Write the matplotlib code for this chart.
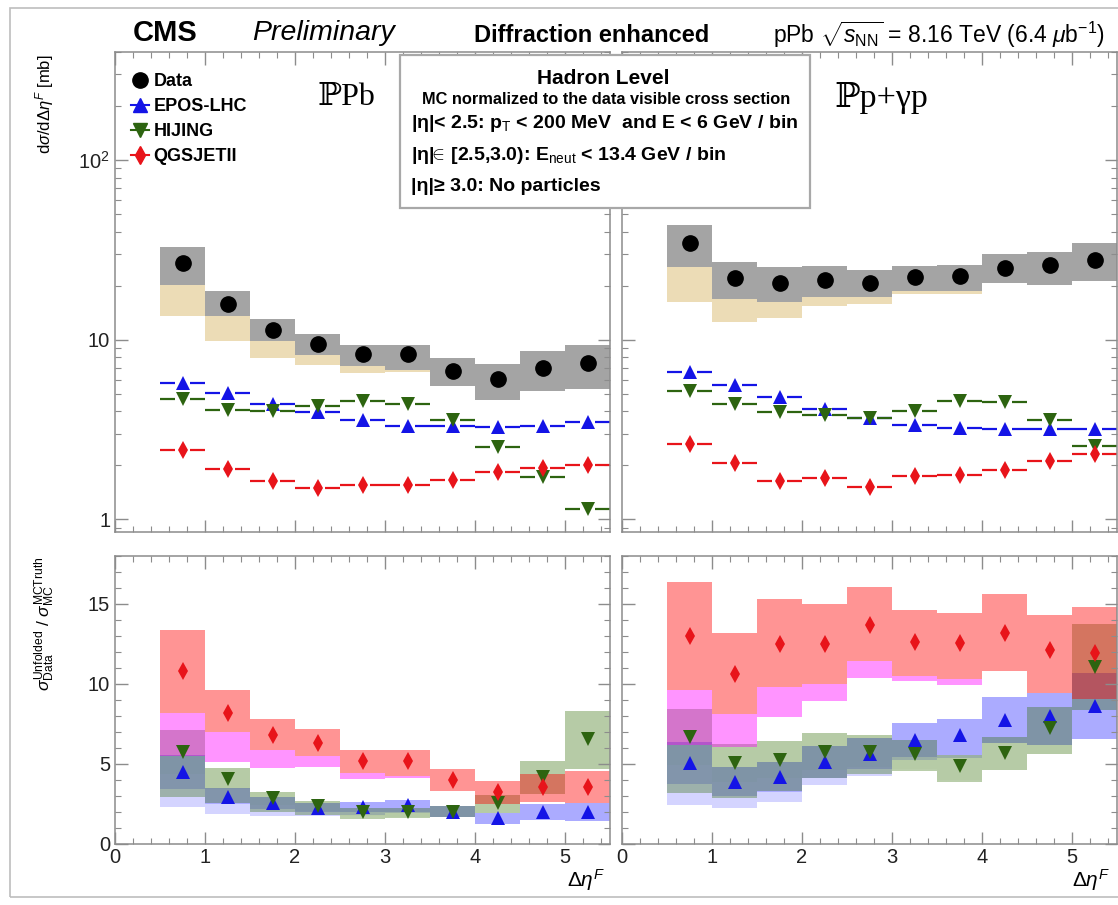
import numpy as np
import matplotlib
matplotlib.use("Agg")
import matplotlib.pyplot as plt
from matplotlib.lines import Line2D
from matplotlib.patches import Rectangle
from matplotlib.ticker import MultipleLocator, LogLocator, NullFormatter, FuncFormatter

plt.rcParams['font.family'] = ['Liberation Sans', 'DejaVu Sans']
plt.rcParams['mathtext.fontset'] = 'custom'
plt.rcParams['mathtext.rm'] = 'Liberation Sans'
plt.rcParams['mathtext.it'] = 'Liberation Sans:italic'
plt.rcParams['mathtext.bf'] = 'Liberation Sans:bold'

# bins in delta eta^F (lower edges, width 0.5)
bin_lo = np.array([0.5, 1.0, 1.5, 2.0, 2.5, 3.0, 3.5, 4.0, 4.5, 5.0])
bin_w = 0.5

# ---- IPPb, d sigma / d delta eta [mb]
data_ppb = np.array([26.7, 15.8, 11.4, 9.5, 8.3, 8.3, 6.7, 6.05, 7.0, 7.4])
data_ppb_hi = np.array([33.0, 18.6, 13.1, 10.8, 9.4, 9.4, 7.9, 7.3, 8.7, 9.4])
data_ppb_lo = np.array([20.2, 13.5, 9.8, 8.26, 7.1, 6.8, 5.5, 4.6, 5.2, 5.3])
data_ppb_ext = np.array([13.5, 9.9, 7.96, 7.25, 6.5, 6.6, 5.5, 4.6, 5.2, 5.3])
epos_ppb = np.array([5.74, 5.05, 4.41, 3.94, 3.56, 3.30, 3.30, 3.28, 3.30, 3.47])
hijing_ppb = np.array([4.68, 4.05, 4.0, 4.26, 4.54, 4.41, 3.59, 2.53, 1.73, 1.14])
qgs_ppb = np.array([2.43, 1.90, 1.63, 1.50, 1.56, 1.56, 1.65, 1.83, 1.94, 2.0])

# ---- IPp + gamma p
data_ppg = np.array([34.5, 22.0, 20.8, 21.5, 20.8, 22.3, 22.7, 25.2, 26.1, 27.8])
data_ppg_hi = np.array([43.5, 27.2, 25.5, 25.8, 24.5, 25.8, 26.1, 29.9, 30.8, 34.5])
data_ppg_lo = np.array([25.5, 16.8, 16.3, 17.2, 17.4, 18.6, 18.6, 20.6, 20.2, 21.1])
data_ppg_ext = np.array([16.3, 12.5, 13.2, 15.4, 15.8, 18.0, 18.0, 20.6, 20.2, 21.1])
epos_ppg = np.array([6.62, 5.62, 4.80, 4.14, 3.67, 3.34, 3.23, 3.19, 3.19, 3.20])
hijing_ppg = np.array([5.21, 4.41, 3.95, 3.83, 3.67, 4.03, 4.58, 4.48, 3.59, 2.55])
qgs_ppg = np.array([2.61, 2.07, 1.63, 1.70, 1.52, 1.74, 1.76, 1.88, 2.11, 2.32])

# ---- ratios data / MC
qgs_ratio_ppb = np.array([10.8, 8.18, 6.78, 6.30, 5.18, 5.18, 3.97, 3.24, 3.51, 3.55])
epos_ratio_ppb = np.array([4.49, 2.93, 2.51, 2.25, 2.3, 2.41, 1.99, 1.6, 1.99, 1.99])
hijing_ratio_ppb = np.array([5.74, 4.01, 2.83, 2.35, 1.99, 1.99, 1.99, 2.51, 4.18, 6.55])

qgs_ratio_ppg = np.array([12.99, 10.64, 12.47, 12.47, 13.66, 12.61, 12.55, 13.18, 12.14, 11.93])
epos_ratio_ppg = np.array([5.05, 3.86, 4.14, 5.11, 5.6, 6.51, 6.78, 7.72, 7.97, 8.59])
hijing_ratio_ppg = np.array([6.68, 5.05, 5.22, 5.74, 5.75, 5.59, 4.84, 5.64, 7.26, 11.05])

EPOS_C = '#1414e6'
HIJ_C = '#2d6410'
QGS_C = '#e8141a'
W, H = 1118, 905
centers = bin_lo + bin_w / 2
gap = 0.085


def fx(px):
    return px / W


def fy(py):
    return 1 - py / H


def style_axes(ax):
    for s in ax.spines.values():
        s.set_color('#8c8c8c')
        s.set_linewidth(1.1)
    ax.set_xlim(0, 5.5)
    ax.xaxis.set_major_locator(MultipleLocator(1))
    ax.xaxis.set_minor_locator(MultipleLocator(0.2))
    ax.tick_params(which='both', direction='in', top=True, right=True,
                   colors='#8c8c8c', labelcolor='#222222', labelsize=14.5)
    ax.tick_params(which='major', length=9, width=1)
    ax.tick_params(which='minor', length=4.5, width=0.8)


def draw_top(ax, data, hi, lo, ext, epos, hij, qgs):
    ax.bar(centers, lo - ext, bottom=ext, width=bin_w, color='#ecdcb6', lw=0)
    ax.bar(centers, hi - lo, bottom=lo, width=bin_w, color='#a4a4a4', lw=0)
    for vals, col, mk, ms in ((epos, EPOS_C, '^', 10), (hij, HIJ_C, 'v', 10), (qgs, QGS_C, 'd', 9)):
        ax.hlines(vals, bin_lo, centers - gap, color=col, lw=1.6)
        ax.hlines(vals, centers + gap, bin_lo + bin_w, color=col, lw=1.6)
        ax.plot(centers, vals, ls='none', marker=mk, color=col, ms=ms, mew=0)
    ax.plot(centers, data, ls='none', marker='o', color='black', ms=11)
    ax.set_yscale('log')
    ax.set_ylim(0.85, 400)
    ax.yaxis.set_major_locator(LogLocator(base=10, numticks=10))
    ax.yaxis.set_minor_locator(LogLocator(base=10, subs=np.arange(2, 10), numticks=10))
    ax.yaxis.set_minor_formatter(NullFormatter())
    ax.set_xticklabels([])


def draw_ratio(ax, data, hi, lo, ext, epos_r, hij_r, qgs_r):
    rel_hi, rel_lo, rel_ext = hi / data, lo / data, ext / data
    models = (
        (epos_r, EPOS_C, '^', 10, ('#0000ff', 0.33), ('#0000ff', 0.17)),
        (hij_r, HIJ_C, 'v', 10, ('#2f6b00', 0.35), ('#2f6b00', 0.33)),
        (qgs_r, QGS_C, 'd', 9, ('#ff0000', 0.42), ('#ff00ff', 0.42)),
    )
    for r, col, mk, ms, main, extc in models:
        ax.bar(centers, r * (rel_lo - rel_ext), bottom=r * rel_ext, width=bin_w,
               color=extc[0], alpha=extc[1], lw=0)
        ax.bar(centers, r * (rel_hi - rel_lo), bottom=r * rel_lo, width=bin_w,
               color=main[0], alpha=main[1], lw=0)
        ax.plot(centers, r, ls='none', marker=mk, color=col, ms=ms, mew=0)
    ax.set_ylim(0, 18)
    ax.yaxis.set_major_locator(MultipleLocator(5))
    ax.yaxis.set_minor_locator(MultipleLocator(1))


fig = plt.figure(figsize=(W / 100, H / 100), dpi=100)

ax_tl = fig.add_axes([fx(115), fy(532), 495 / W, 480 / H])
ax_tr = fig.add_axes([fx(622), fy(532), 495 / W, 480 / H])
ax_bl = fig.add_axes([fx(115), fy(843.5), 495 / W, 287.5 / H])
ax_br = fig.add_axes([fx(622), fy(843.5), 495 / W, 287.5 / H])

for ax in (ax_tl, ax_tr, ax_bl, ax_br):
    style_axes(ax)

draw_top(ax_tl, data_ppb, data_ppb_hi, data_ppb_lo, data_ppb_ext, epos_ppb, hijing_ppb, qgs_ppb)
draw_top(ax_tr, data_ppg, data_ppg_hi, data_ppg_lo, data_ppg_ext, epos_ppg, hijing_ppg, qgs_ppg)
draw_ratio(ax_bl, data_ppb, data_ppb_hi, data_ppb_lo, data_ppb_ext,
           epos_ratio_ppb, hijing_ratio_ppb, qgs_ratio_ppb)
draw_ratio(ax_br, data_ppg, data_ppg_hi, data_ppg_lo, data_ppg_ext,
           epos_ratio_ppg, hijing_ratio_ppg, qgs_ratio_ppg)

log_fmt = FuncFormatter(lambda v, p: {1: '1', 10: '10', 100: r'$10^{2}$'}.get(int(round(v)), ''))
ax_tl.yaxis.set_major_formatter(log_fmt)
ax_tr.set_yticklabels([])
ax_br.set_yticklabels([])

# panel labels
serif = ['Liberation Serif', 'DejaVu Serif', 'DejaVu Sans']
ax_tl.text(0.41, 0.905, '\u2119Pb', transform=ax_tl.transAxes, fontsize=23,
           family=serif, va='center')
ax_tr.text(0.43, 0.905, '\u2119p+\u03b3p', transform=ax_tr.transAxes, fontsize=24.5,
           family=serif, va='center')

# axis titles
fig.text(fx(45), fy(55), r'd$\sigma$/d$\Delta\eta^{F}$ [mb]', rotation=90,
         ha='center', va='top', fontsize=12)
fig.text(fx(45), fy(556), r'$\sigma_{\rm Data}^{\rm Unfolded}$ / $\sigma_{\rm MC}^{\rm MCTruth}$',
         rotation=90, ha='center', va='top', fontsize=12.5)
fig.text(fx(605), fy(880), r'$\Delta\eta^{F}$', ha='right', va='center', fontsize=15)
fig.text(fx(1110), fy(880), r'$\Delta\eta^{F}$', ha='right', va='center', fontsize=15)

# header
fig.text(fx(133), fy(33), 'CMS', fontsize=21, fontweight='bold', va='center')
fig.text(fx(252), fy(33), 'Preliminary', fontsize=20.5, style='italic', va='center')
fig.text(fx(592), fy(35), 'Diffraction enhanced', fontsize=17, fontweight='bold',
         ha='center', va='center')
fig.text(fx(1105), fy(35), r'pPb $\sqrt{s_{\rm NN}}$ = 8.16 TeV (6.4 $\mu$b$^{-1}$)',
         fontsize=16.5, ha='right', va='center')

# legend
handles = [
    Line2D([], [], ls='none', marker='o', color='black', ms=11),
    Line2D([], [], ls='-', lw=1.5, marker='^', color=EPOS_C, ms=10),
    Line2D([], [], ls='-', lw=1.5, marker='v', color=HIJ_C, ms=10),
    Line2D([], [], ls='-', lw=1.5, marker='d', color=QGS_C, ms=9),
]
fig.legend(handles, ['Data', 'EPOS-LHC', 'HIJING', 'QGSJETII'], loc='upper left',
           bbox_to_anchor=(fx(122), fy(64)), frameon=False, handlelength=1.0,
           handletextpad=0.25, labelspacing=0.45, borderpad=0,
           prop={'size': 13, 'weight': 'bold'})

# selection box
fig.add_artist(Rectangle((fx(400), fy(208)), 410 / W, 153 / H, transform=fig.transFigure,
                         facecolor='white', edgecolor='#a8a8a8', lw=1.6, zorder=2))
fig.text(fx(603), fy(78), 'Hadron Level', fontsize=15, fontweight='bold',
         ha='center', va='center', zorder=3)
fig.text(fx(606), fy(100), 'MC normalized to the data visible cross section', fontsize=11.8,
         fontweight='bold', ha='center', va='center', zorder=3)
fig.text(fx(411), fy(123), r'|η|< 2.5: p$_{\rm T}$ < 200 MeV  and E < 6 GeV / bin',
         fontsize=14, fontweight='bold', ha='left', va='center', zorder=3)
fig.text(fx(411), fy(155), r'|η|$\!\!\in\!$ [2.5,3.0): E$_{\rm neut}$ < 13.4 GeV / bin',
         fontsize=14, fontweight='bold', ha='left', va='center', zorder=3)
fig.text(fx(411), fy(186), '|η|≥ 3.0: No particles',
         fontsize=14, fontweight='bold', ha='left', va='center', zorder=3)

# outer frame
fig.add_artist(Rectangle((fx(10), fy(897)), 1.0, (897 - 8) / H, transform=fig.transFigure,
                         fill=False, edgecolor='#bdbdbd', lw=1.2))

fig.savefig('out.png', dpi=100)
